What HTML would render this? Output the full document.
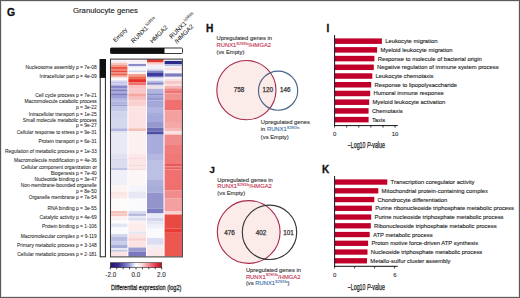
<!DOCTYPE html>
<html><head><meta charset="utf-8"><style>
html,body{margin:0;padding:0;background:#fff;}
#f{position:relative;width:520px;height:298px;overflow:hidden;background:#fff;}
#f svg{position:absolute;left:0;top:0;}
#b{position:absolute;left:0;top:0;width:518px;height:296px;border:1px solid #5c5c5c;box-shadow:inset 0 0 0 1px #e6e6e6;}
text{font-family:"Liberation Sans", sans-serif;}
</style></head><body><div id="f">
<svg width="520" height="298" viewBox="0 0 520 298">
<text x="7.0" y="15.5" font-size="10.4" fill="#111" font-weight="bold" stroke="#111" stroke-width="0.3">G</text>
<text x="73" y="13" font-size="7.74" fill="#222" textLength="65" lengthAdjust="spacingAndGlyphs" stroke="#222" stroke-width="0.12">Granulocyte genes</text>
<rect x="110.5" y="48" width="72" height="5.5" fill="#fff" stroke="#222" stroke-width="0.9" rx="0.8"/>
<rect x="110.5" y="48" width="54.0" height="5.5" fill="#111"/>
<rect x="100.2" y="59.6" width="5.2" height="197.2" fill="#fff" stroke="#222" stroke-width="1"/>
<rect x="99.7" y="59.1" width="6.2" height="18.8" fill="#111"/>
<rect x="110.5" y="59.1" width="71.9" height="197.8" fill="#fff"/>
<rect x="111.1" y="59.4" width="16.3" height="2.6" fill="#f6f2f8"/>
<rect x="111.1" y="62" width="16.3" height="1.1" fill="#f8e4e4"/>
<rect x="111.1" y="63.1" width="16.3" height="1.7" fill="#f6c0b8"/>
<rect x="111.1" y="64.8" width="16.3" height="1.8" fill="#f29888"/>
<rect x="111.1" y="66.6" width="16.3" height="2.8" fill="#ec5848"/>
<rect x="111.1" y="69.4" width="16.3" height="1.2" fill="#ee6654"/>
<rect x="111.1" y="70.6" width="16.3" height="1.7" fill="#e84a3c"/>
<rect x="111.1" y="72.3" width="16.3" height="1.1" fill="#f07c6c"/>
<rect x="111.1" y="73.4" width="16.3" height="2.3" fill="#ec6050"/>
<rect x="111.1" y="75.7" width="16.3" height="1.7" fill="#f6b0a8"/>
<rect x="111.1" y="77.4" width="16.3" height="1.1" fill="#fae0dc"/>
<rect x="111.1" y="78.5" width="16.3" height="1.8" fill="#fcfafa"/>
<rect x="111.1" y="80.3" width="16.3" height="1.7" fill="#d8d8f0"/>
<rect x="111.1" y="82" width="16.3" height="1.7" fill="#c0c0e6"/>
<rect x="111.1" y="83.7" width="16.3" height="1.7" fill="#d0d0ec"/>
<rect x="111.1" y="85.4" width="16.3" height="2.9" fill="#8888c8"/>
<rect x="111.1" y="88.3" width="16.3" height="1.7" fill="#9c9cd4"/>
<rect x="111.1" y="90" width="16.3" height="1.7" fill="#8080c2"/>
<rect x="111.1" y="91.7" width="16.3" height="1.7" fill="#a8a8dc"/>
<rect x="111.1" y="93.4" width="16.3" height="2.3" fill="#7878c0"/>
<rect x="111.1" y="95.7" width="16.3" height="2.3" fill="#a0a0d8"/>
<rect x="111.1" y="98" width="16.3" height="2.5" fill="#b0b4e0"/>
<rect x="111.1" y="100.5" width="16.3" height="1.0" fill="#a0a4d8"/>
<rect x="111.1" y="101.5" width="16.3" height="3.3" fill="#b0b4e0"/>
<rect x="111.1" y="104.8" width="16.3" height="1.2" fill="#9c9cd4"/>
<rect x="111.1" y="106" width="16.3" height="5.7" fill="#c4c8e8"/>
<rect x="111.1" y="111.7" width="16.3" height="6.3" fill="#d0d4ee"/>
<rect x="111.1" y="118" width="16.3" height="10.3" fill="#d4d8ef"/>
<rect x="111.1" y="128.3" width="16.3" height="2.8" fill="#b0b4e0"/>
<rect x="111.1" y="131.1" width="16.3" height="2.3" fill="#e0e2f2"/>
<rect x="111.1" y="133.4" width="16.3" height="20.6" fill="#e8e8f6"/>
<rect x="111.1" y="154" width="16.3" height="4.6" fill="#e0e2f2"/>
<rect x="111.1" y="158.6" width="16.3" height="2.2" fill="#d4d6ee"/>
<rect x="111.1" y="160.8" width="16.3" height="6.9" fill="#dcdef0"/>
<rect x="111.1" y="167.7" width="16.3" height="2.3" fill="#c0c4e4"/>
<rect x="111.1" y="170" width="16.3" height="15" fill="#eff0f8"/>
<rect x="111.1" y="185" width="16.3" height="6.7" fill="#fcf4f4"/>
<rect x="111.1" y="191.7" width="16.3" height="3.4" fill="#fae6e2"/>
<rect x="111.1" y="195.1" width="16.3" height="3.5" fill="#fce8e6"/>
<rect x="111.1" y="198.6" width="16.3" height="12.5" fill="#fdfafa"/>
<rect x="111.1" y="211.1" width="16.3" height="2.3" fill="#f4c0b4"/>
<rect x="111.1" y="213.4" width="16.3" height="2.8" fill="#f6c8c0"/>
<rect x="111.1" y="216.2" width="16.3" height="4.5" fill="#fcf0f0"/>
<rect x="111.1" y="220.7" width="16.3" height="2.7" fill="#fcfcfd"/>
<rect x="111.1" y="223.4" width="16.3" height="4.0" fill="#e4e6f4"/>
<rect x="111.1" y="227.4" width="16.3" height="6.7" fill="#fbfbfd"/>
<rect x="111.1" y="234.1" width="16.3" height="2.7" fill="#d0d4ec"/>
<rect x="111.1" y="236.8" width="16.3" height="4.7" fill="#b8bce2"/>
<rect x="111.1" y="241.5" width="16.3" height="3.3" fill="#c8cce8"/>
<rect x="111.1" y="244.8" width="16.3" height="3.4" fill="#a8acd8"/>
<rect x="111.1" y="248.2" width="16.3" height="2.0" fill="#e8e8f4"/>
<rect x="111.1" y="250.2" width="16.3" height="1.4" fill="#b0b4dc"/>
<rect x="111.1" y="251.6" width="16.3" height="4.9" fill="#fce4e4"/>
<rect x="128.4" y="59.4" width="17.6" height="3.2" fill="#f8f0f4"/>
<rect x="128.4" y="62.6" width="17.6" height="1.4" fill="#f0eef6"/>
<rect x="128.4" y="64" width="17.6" height="2.2" fill="#8c8acb"/>
<rect x="128.4" y="66.2" width="17.6" height="1.5" fill="#e8e8f4"/>
<rect x="128.4" y="67.7" width="17.6" height="2.9" fill="#f8f8fc"/>
<rect x="128.4" y="70.6" width="17.6" height="1.7" fill="#d0d4ec"/>
<rect x="128.4" y="72.3" width="17.6" height="1.7" fill="#fcf4f4"/>
<rect x="128.4" y="74" width="17.6" height="2.3" fill="#f0a090"/>
<rect x="128.4" y="76.3" width="17.6" height="2.8" fill="#ec6a50"/>
<rect x="128.4" y="79.1" width="17.6" height="3.4" fill="#e8302a"/>
<rect x="128.4" y="82.5" width="17.6" height="2.9" fill="#f07070"/>
<rect x="128.4" y="85.4" width="17.6" height="3.4" fill="#f8c0c0"/>
<rect x="128.4" y="88.8" width="17.6" height="4.6" fill="#f8c8c8"/>
<rect x="128.4" y="93.4" width="17.6" height="3.4" fill="#f4a8a0"/>
<rect x="128.4" y="96.8" width="17.6" height="3.5" fill="#f8c0c0"/>
<rect x="128.4" y="100.3" width="17.6" height="5.7" fill="#fad0d0"/>
<rect x="128.4" y="106" width="17.6" height="9" fill="#fce4e4"/>
<rect x="128.4" y="115" width="17.6" height="13.3" fill="#fce2e2"/>
<rect x="128.4" y="128.3" width="17.6" height="2.8" fill="#f4c0b8"/>
<rect x="128.4" y="131.1" width="17.6" height="22.9" fill="#fdf0f0"/>
<rect x="128.4" y="154" width="17.6" height="4" fill="#fce8e8"/>
<rect x="128.4" y="158" width="17.6" height="1.5" fill="#f8d8d8"/>
<rect x="128.4" y="159.5" width="17.6" height="5.0" fill="#fce8e8"/>
<rect x="128.4" y="164.5" width="17.6" height="1.5" fill="#f8d8d8"/>
<rect x="128.4" y="166" width="17.6" height="2.5" fill="#fce8e8"/>
<rect x="128.4" y="168.5" width="17.6" height="1.5" fill="#f8d8d8"/>
<rect x="128.4" y="170" width="17.6" height="16" fill="#fdf6f6"/>
<rect x="128.4" y="186" width="17.6" height="5.7" fill="#f4f4fa"/>
<rect x="128.4" y="191.7" width="17.6" height="6.9" fill="#e8e8f4"/>
<rect x="128.4" y="198.6" width="17.6" height="12.4" fill="#fafafd"/>
<rect x="128.4" y="211" width="17.6" height="2.4" fill="#dcdef0"/>
<rect x="128.4" y="213.4" width="17.6" height="2.8" fill="#b8bce0"/>
<rect x="128.4" y="216.2" width="17.6" height="1.8" fill="#e8eaf4"/>
<rect x="128.4" y="218" width="17.6" height="2.7" fill="#dcdef0"/>
<rect x="128.4" y="220.7" width="17.6" height="2.7" fill="#fcf0f0"/>
<rect x="128.4" y="223.4" width="17.6" height="8.0" fill="#fcecec"/>
<rect x="128.4" y="231.4" width="17.6" height="2.7" fill="#e8e8f4"/>
<rect x="128.4" y="234.1" width="17.6" height="4.1" fill="#fce4e4"/>
<rect x="128.4" y="238.2" width="17.6" height="2.6" fill="#f8d0d0"/>
<rect x="128.4" y="240.8" width="17.6" height="6.7" fill="#fce4e4"/>
<rect x="128.4" y="247.5" width="17.6" height="4.1" fill="#9c9cd0"/>
<rect x="128.4" y="251.6" width="17.6" height="4.9" fill="#7c78c0"/>
<rect x="147.0" y="59.1" width="16.5" height="3.2" fill="#e03830"/>
<rect x="147.0" y="62.3" width="16.5" height="1.4" fill="#f4b0a8"/>
<rect x="147.0" y="63.7" width="16.5" height="1.7" fill="#fadcdc"/>
<rect x="147.0" y="65.4" width="16.5" height="4.0" fill="#f0f0f8"/>
<rect x="147.0" y="69.4" width="16.5" height="1.7" fill="#c0c4e4"/>
<rect x="147.0" y="71.1" width="16.5" height="1.7" fill="#7878c0"/>
<rect x="147.0" y="72.8" width="16.5" height="4.0" fill="#3c3ca0"/>
<rect x="147.0" y="76.8" width="16.5" height="1.7" fill="#c8cce8"/>
<rect x="147.0" y="78.5" width="16.5" height="2.3" fill="#eceef8"/>
<rect x="147.0" y="80.8" width="16.5" height="1.7" fill="#b8bce2"/>
<rect x="147.0" y="82.5" width="16.5" height="2.3" fill="#8484c4"/>
<rect x="147.0" y="84.8" width="16.5" height="2.3" fill="#e0e0f0"/>
<rect x="147.0" y="87.1" width="16.5" height="1.7" fill="#f8e0e0"/>
<rect x="147.0" y="88.8" width="16.5" height="4.6" fill="#b0b4de"/>
<rect x="147.0" y="93.4" width="16.5" height="1.7" fill="#8c8cc8"/>
<rect x="147.0" y="95.1" width="16.5" height="2.9" fill="#a4a8d8"/>
<rect x="147.0" y="98" width="16.5" height="2.3" fill="#9898d0"/>
<rect x="147.0" y="100.3" width="16.5" height="6.7" fill="#a4a8d8"/>
<rect x="147.0" y="107" width="16.5" height="6" fill="#b0b4e0"/>
<rect x="147.0" y="113" width="16.5" height="3" fill="#a8acda"/>
<rect x="147.0" y="116" width="16.5" height="6" fill="#a4a8da"/>
<rect x="147.0" y="122" width="16.5" height="5.7" fill="#9898d0"/>
<rect x="147.0" y="127.7" width="16.5" height="4.0" fill="#6c6cb4"/>
<rect x="147.0" y="131.7" width="16.5" height="2.9" fill="#4c4ca4"/>
<rect x="147.0" y="134.6" width="16.5" height="19.4" fill="#a8acdc"/>
<rect x="147.0" y="154" width="16.5" height="6" fill="#b4b8e0"/>
<rect x="147.0" y="160" width="16.5" height="20" fill="#bcc0e4"/>
<rect x="147.0" y="180" width="16.5" height="6" fill="#acb0da"/>
<rect x="147.0" y="186" width="16.5" height="6.8" fill="#a8acd8"/>
<rect x="147.0" y="192.8" width="16.5" height="16.0" fill="#9494cc"/>
<rect x="147.0" y="208.8" width="16.5" height="4.6" fill="#7c7cc0"/>
<rect x="147.0" y="213.4" width="16.5" height="4.6" fill="#e8eaf6"/>
<rect x="147.0" y="218" width="16.5" height="3.4" fill="#d4d6ee"/>
<rect x="147.0" y="221.4" width="16.5" height="3.3" fill="#e4e6f4"/>
<rect x="147.0" y="224.7" width="16.5" height="4.0" fill="#f0f0f8"/>
<rect x="147.0" y="228.7" width="16.5" height="9.4" fill="#fafafd"/>
<rect x="147.0" y="238.1" width="16.5" height="6.7" fill="#dcdcf2"/>
<rect x="147.0" y="244.8" width="16.5" height="4.1" fill="#f4eef4"/>
<rect x="147.0" y="248.9" width="16.5" height="7.6" fill="#fce8e8"/>
<rect x="164.6" y="59.1" width="17.3" height="1.8" fill="#fafafc"/>
<rect x="164.6" y="60.9" width="17.3" height="3.4" fill="#2a2a88"/>
<rect x="164.6" y="64.3" width="17.3" height="1.7" fill="#b8bce2"/>
<rect x="164.6" y="66" width="17.3" height="1.7" fill="#f0f0f8"/>
<rect x="164.6" y="67.7" width="17.3" height="2.3" fill="#fae0e0"/>
<rect x="164.6" y="70" width="17.3" height="3.4" fill="#f8f8fc"/>
<rect x="164.6" y="73.4" width="17.3" height="3.4" fill="#7c7cbc"/>
<rect x="164.6" y="76.8" width="17.3" height="2.3" fill="#f4f4fa"/>
<rect x="164.6" y="79.1" width="17.3" height="1.7" fill="#fae0e0"/>
<rect x="164.6" y="80.8" width="17.3" height="3.5" fill="#f8c8c8"/>
<rect x="164.6" y="84.3" width="17.3" height="1.7" fill="#fadcdc"/>
<rect x="164.6" y="86" width="17.3" height="2.3" fill="#f6b4b4"/>
<rect x="164.6" y="88.3" width="17.3" height="2.7" fill="#f08888"/>
<rect x="164.6" y="91" width="17.3" height="2.4" fill="#ee7474"/>
<rect x="164.6" y="93.4" width="17.3" height="6.6" fill="#f29090"/>
<rect x="164.6" y="100" width="17.3" height="10.5" fill="#f07070"/>
<rect x="164.6" y="110.5" width="17.3" height="11.5" fill="#f4a0a0"/>
<rect x="164.6" y="122" width="17.3" height="6.8" fill="#f4a8a8"/>
<rect x="164.6" y="128.8" width="17.3" height="2.3" fill="#f6b8b8"/>
<rect x="164.6" y="131.1" width="17.3" height="3.5" fill="#fce0e0"/>
<rect x="164.6" y="134.6" width="17.3" height="10.4" fill="#f08c8c"/>
<rect x="164.6" y="145" width="17.3" height="9" fill="#f07c7c"/>
<rect x="164.6" y="154" width="17.3" height="10" fill="#f07878"/>
<rect x="164.6" y="164" width="17.3" height="2.5" fill="#e85858"/>
<rect x="164.6" y="166.5" width="17.3" height="1.5" fill="#f07070"/>
<rect x="164.6" y="168" width="17.3" height="1.5" fill="#e86060"/>
<rect x="164.6" y="169.5" width="17.3" height="21.1" fill="#f07070"/>
<rect x="164.6" y="190.6" width="17.3" height="8.0" fill="#f28c8c"/>
<rect x="164.6" y="198.6" width="17.3" height="12.4" fill="#f4a0a0"/>
<rect x="164.6" y="211" width="17.3" height="3.5" fill="#fad0d0"/>
<rect x="164.6" y="214.5" width="17.3" height="14.2" fill="#e84a42"/>
<rect x="164.6" y="228.7" width="17.3" height="4.1" fill="#e83c34"/>
<rect x="164.6" y="232.8" width="17.3" height="23.7" fill="#ec5850"/>
<rect x="110.5" y="59.1" width="71.9" height="197.8" fill="none" stroke="#404040" stroke-width="1.05"/>
<text x="96.8" y="68.92" font-size="4.9" fill="#222" text-anchor="end" stroke="#222" stroke-width="0.05">Nucleosome assembly p = 7e-08</text>
<text x="96.8" y="78.42" font-size="4.9" fill="#222" text-anchor="end" stroke="#222" stroke-width="0.05">Intracellular part p = 4e-09</text>
<text x="96.8" y="97.12" font-size="4.9" fill="#222" text-anchor="end" stroke="#222" stroke-width="0.05">Cell cycle process p = 7e-21</text>
<text x="96.8" y="102.82" font-size="4.9" fill="#222" text-anchor="end" stroke="#222" stroke-width="0.05">Macromolecule catabolic process</text>
<text x="96.8" y="108.52" font-size="4.9" fill="#222" text-anchor="end" stroke="#222" stroke-width="0.05">p = 3e-22</text>
<text x="96.8" y="115.82" font-size="4.9" fill="#222" text-anchor="end" stroke="#222" stroke-width="0.05">Intracellular transport p = 1e-25</text>
<text x="96.8" y="121.52" font-size="4.9" fill="#222" text-anchor="end" stroke="#222" stroke-width="0.05">Small molecule metabolic process</text>
<text x="96.8" y="127.42" font-size="4.9" fill="#222" text-anchor="end" stroke="#222" stroke-width="0.05">p = 9e-27</text>
<text x="96.8" y="134.12" font-size="4.9" fill="#222" text-anchor="end" stroke="#222" stroke-width="0.05">Cellular response to stress p = 9e-31</text>
<text x="96.8" y="143.22" font-size="4.9" fill="#222" text-anchor="end" stroke="#222" stroke-width="0.05">Protein transport p = 6e-31</text>
<text x="96.8" y="153.12" font-size="4.9" fill="#222" text-anchor="end" stroke="#222" stroke-width="0.05">Regulation of metabolic process p = 1e-33</text>
<text x="96.8" y="162.22" font-size="4.9" fill="#222" text-anchor="end" stroke="#222" stroke-width="0.05">Macromolecule modification p = 4e-36</text>
<text x="96.8" y="168.72" font-size="4.9" fill="#222" text-anchor="end" stroke="#222" stroke-width="0.05">Cellular component organization or</text>
<text x="96.8" y="174.72" font-size="4.9" fill="#222" text-anchor="end" stroke="#222" stroke-width="0.05">Biogenesis p = 7e-40</text>
<text x="96.8" y="180.82" font-size="4.9" fill="#222" text-anchor="end" stroke="#222" stroke-width="0.05">Nucleotide binding p = 3e-47</text>
<text x="96.8" y="187.22" font-size="4.9" fill="#222" text-anchor="end" stroke="#222" stroke-width="0.05">Non-membrane-bounded organelle</text>
<text x="96.8" y="192.92" font-size="4.9" fill="#222" text-anchor="end" stroke="#222" stroke-width="0.05">p = 8e-50</text>
<text x="96.8" y="199.22" font-size="4.9" fill="#222" text-anchor="end" stroke="#222" stroke-width="0.05">Organelle membrane p = 7e-54</text>
<text x="96.8" y="209.72" font-size="4.9" fill="#222" text-anchor="end" stroke="#222" stroke-width="0.05">RNA binding p = 3e-55</text>
<text x="96.8" y="219.22" font-size="4.9" fill="#222" text-anchor="end" stroke="#222" stroke-width="0.05">Catalytic activity p = 4e-69</text>
<text x="96.8" y="227.92" font-size="4.9" fill="#222" text-anchor="end" stroke="#222" stroke-width="0.05">Protein binding p = 1-106</text>
<text x="96.8" y="237.62" font-size="4.9" fill="#222" text-anchor="end" stroke="#222" stroke-width="0.05">Macromolecular complex p = 9-119</text>
<text x="96.8" y="246.92" font-size="4.9" fill="#222" text-anchor="end" stroke="#222" stroke-width="0.05">Primary metabolic process p = 3-148</text>
<text x="96.8" y="255.72" font-size="4.9" fill="#222" text-anchor="end" stroke="#222" stroke-width="0.05">Cellular metabolic process p = 2-181</text>
<text transform="translate(115.5,42.5) rotate(-45)" font-size="6.0" fill="#222" stroke="#222" stroke-width="0.04">Empty</text>
<text transform="translate(133.5,43.5) rotate(-45)" font-size="6.3" fill="#222" stroke="#222" stroke-width="0.04">RUNX1<tspan font-size="3.9" dy="-2.7">S291fs</tspan></text>
<text transform="translate(152.4,43.6) rotate(-45)" font-size="6.3" fill="#222" stroke="#222" stroke-width="0.04">HMGA2</text>
<text transform="translate(171.8,38.9) rotate(-45)" font-size="6.3" fill="#222" stroke="#222" stroke-width="0.04">RUNX1<tspan font-size="3.9" dy="-2.7">S291fs</tspan></text>
<text transform="translate(176.9,43.9) rotate(-45)" font-size="6.3" fill="#222" stroke="#222" stroke-width="0.04">/HMGA2</text>
<defs><linearGradient id="cb" x1="0" x2="1" y1="0" y2="0">
<stop offset="0" stop-color="#241470"/><stop offset="0.15" stop-color="#3a2a90"/><stop offset="0.35" stop-color="#8c8cd4"/><stop offset="0.5" stop-color="#ffffff"/>
<stop offset="0.6" stop-color="#fce0e4"/><stop offset="0.75" stop-color="#f08890"/><stop offset="0.9" stop-color="#e03040"/><stop offset="1" stop-color="#b80c20"/></linearGradient></defs>
<rect x="110.3" y="262.7" width="51.4" height="5.0" fill="url(#cb)" stroke="#333" stroke-width="0.6"/>
<line x1="110.30" y1="267.4" x2="110.30" y2="269.3" stroke="#111" stroke-width="0.8"/>
<line x1="116.72" y1="267.4" x2="116.72" y2="269.3" stroke="#111" stroke-width="0.8"/>
<line x1="123.15" y1="267.4" x2="123.15" y2="269.3" stroke="#111" stroke-width="0.8"/>
<line x1="129.57" y1="267.4" x2="129.57" y2="269.3" stroke="#111" stroke-width="0.8"/>
<line x1="136.00" y1="267.4" x2="136.00" y2="269.3" stroke="#111" stroke-width="0.8"/>
<line x1="142.43" y1="267.4" x2="142.43" y2="269.3" stroke="#111" stroke-width="0.8"/>
<line x1="148.85" y1="267.4" x2="148.85" y2="269.3" stroke="#111" stroke-width="0.8"/>
<line x1="155.28" y1="267.4" x2="155.28" y2="269.3" stroke="#111" stroke-width="0.8"/>
<line x1="161.70" y1="267.4" x2="161.70" y2="269.3" stroke="#111" stroke-width="0.8"/>
<text x="110.8" y="277.1" font-size="6.3" fill="#333" text-anchor="middle" stroke="#333" stroke-width="0.12">-2.0</text>
<text x="135.8" y="277.1" font-size="6.3" fill="#333" text-anchor="middle" stroke="#333" stroke-width="0.12">0.0</text>
<text x="161.4" y="277.1" font-size="6.3" fill="#333" text-anchor="middle" stroke="#333" stroke-width="0.12">2.0</text>
<text x="111" y="289.7" font-size="8.0" fill="#222" textLength="70.3" lengthAdjust="spacingAndGlyphs" stroke="#222" stroke-width="0.28">Differential expression (log2)</text>
<text x="206" y="32.3" font-size="10.2" fill="#111" font-weight="bold" stroke="#111" stroke-width="0.3">H</text>
<text x="216.5" y="40.3" font-size="5.84" fill="#333" textLength="55.5" lengthAdjust="spacingAndGlyphs" stroke="#333" stroke-width="0.12">Upregulated genes in</text>
<text x="216.5" y="47.3" font-size="5.84" fill="#c4304f" stroke="#c4304f" stroke-width="0.12">RUNX1<tspan font-size="4.0" dy="-2.5">S291fs</tspan><tspan dy="2.5">/HMGA2</tspan></text>
<text x="216.5" y="54.4" font-size="5.84" fill="#333" stroke="#333" stroke-width="0.12">(vs Empty)</text>
<circle cx="246.4" cy="90.15" r="29.6" fill="#fcece9" stroke="#a8284a" stroke-width="1.1"/>
<circle cx="278.1" cy="90.65" r="19.6" fill="none" stroke="#4a6688" stroke-width="1.15"/>
<text x="239" y="91.9" font-size="6.3" fill="#333" text-anchor="middle" stroke="#333" stroke-width="0.25">758</text>
<text x="267.7" y="92.4" font-size="6.3" fill="#333" text-anchor="middle" stroke="#333" stroke-width="0.25">120</text>
<text x="285.2" y="92.4" font-size="6.3" fill="#333" text-anchor="middle" stroke="#333" stroke-width="0.25">146</text>
<text x="260.8" y="124.4" font-size="5.84" fill="#333" textLength="49.1" lengthAdjust="spacingAndGlyphs" stroke="#333" stroke-width="0.12">Upregulated genes</text>
<text x="260.8" y="131.4" font-size="5.84" fill="#333" stroke="#333" stroke-width="0.12">in <tspan fill="#3a6ea5" stroke="#3a6ea5">RUNX1<tspan font-size="4.0" dy="-2.5">S291fs</tspan></tspan></text>
<text x="260.8" y="138.5" font-size="5.84" fill="#333" stroke="#333" stroke-width="0.12">(vs Empty)</text>
<text x="209.5" y="172.6" font-size="9.6" fill="#111" font-weight="bold" stroke="#111" stroke-width="0.3">J</text>
<text x="217.3" y="181.6" font-size="5.84" fill="#333" textLength="55.5" lengthAdjust="spacingAndGlyphs" stroke="#333" stroke-width="0.12">Upregulated genes in</text>
<text x="217.3" y="188.3" font-size="5.84" fill="#c4304f" stroke="#c4304f" stroke-width="0.12">RUNX1<tspan font-size="4.0" dy="-2.5">S291fs</tspan><tspan dy="2.5">/HMGA2</tspan></text>
<text x="217.3" y="194.9" font-size="5.84" fill="#333" stroke="#333" stroke-width="0.12">(vs Empty)</text>
<circle cx="248.7" cy="232" r="31.4" fill="#fcece9" stroke="#a8284a" stroke-width="1.1"/>
<circle cx="269.5" cy="232.3" r="27.2" fill="none" stroke="#383838" stroke-width="1.15"/>
<text x="229.6" y="234.8" font-size="6.3" fill="#333" text-anchor="middle" stroke="#333" stroke-width="0.25">476</text>
<text x="261.1" y="234.8" font-size="6.3" fill="#333" text-anchor="middle" stroke="#333" stroke-width="0.25">402</text>
<text x="288.6" y="234.8" font-size="6.3" fill="#333" text-anchor="middle" stroke="#333" stroke-width="0.25">101</text>
<text x="245.9" y="271.7" font-size="5.84" fill="#333" textLength="55.1" lengthAdjust="spacingAndGlyphs" stroke="#333" stroke-width="0.12">Upregulated genes in</text>
<text x="245.9" y="278.7" font-size="5.84" fill="#c4304f" stroke="#c4304f" stroke-width="0.12">RUNX1<tspan font-size="4.0" dy="-2.5">S291fs</tspan><tspan dy="2.5">/HMGA2</tspan></text>
<text x="245.9" y="285.3" font-size="5.84" fill="#333" stroke="#333" stroke-width="0.12">(vs <tspan fill="#3a6ea5" stroke="#3a6ea5">RUNX1<tspan font-size="4.0" dy="-2.5">S291fs</tspan></tspan><tspan dy="2.5">)</tspan></text>
<text x="326.6" y="31.8" font-size="10.0" fill="#111" font-weight="bold" stroke="#111" stroke-width="0.3">I</text>
<rect x="335" y="38.4" width="46.9" height="5.5" fill="#c0002a"/>
<text x="385.2" y="43.1" font-size="6.1" fill="#222" textLength="52.33" lengthAdjust="spacingAndGlyphs" stroke="#222" stroke-width="0.12">Leukocyte migration</text>
<rect x="335" y="47.12" width="42.1" height="5.5" fill="#c0002a"/>
<text x="380.4" y="51.82" font-size="6.1" fill="#222" textLength="72.14" lengthAdjust="spacingAndGlyphs" stroke="#222" stroke-width="0.12">Myeloid leukocyte migration</text>
<rect x="335" y="55.84" width="39.4" height="5.5" fill="#c0002a"/>
<text x="377.7" y="60.54" font-size="6.1" fill="#222" textLength="104.01" lengthAdjust="spacingAndGlyphs" stroke="#222" stroke-width="0.12">Response to molecule of bacterial origin</text>
<rect x="335" y="64.56" width="38.8" height="5.5" fill="#c0002a"/>
<text x="377.1" y="69.26" font-size="6.1" fill="#222" textLength="121.53" lengthAdjust="spacingAndGlyphs" stroke="#222" stroke-width="0.12">Negative regulation of immune system process</text>
<rect x="335" y="73.28" width="37.3" height="5.5" fill="#c0002a"/>
<text x="375.6" y="77.98" font-size="6.1" fill="#222" textLength="57.85" lengthAdjust="spacingAndGlyphs" stroke="#222" stroke-width="0.12">Leukocyte chemotaxis</text>
<rect x="335" y="82.0" width="36.2" height="5.5" fill="#c0002a"/>
<text x="374.5" y="86.7" font-size="6.1" fill="#222" textLength="82.56" lengthAdjust="spacingAndGlyphs" stroke="#222" stroke-width="0.12">Response to lipopolysaccharide</text>
<rect x="335" y="90.72" width="35.2" height="5.5" fill="#c0002a"/>
<text x="373.5" y="95.42" font-size="6.1" fill="#222" textLength="70.2" lengthAdjust="spacingAndGlyphs" stroke="#222" stroke-width="0.12">Humoral immune response</text>
<rect x="335" y="99.44" width="34.2" height="5.5" fill="#c0002a"/>
<text x="372.5" y="104.14" font-size="6.1" fill="#222" textLength="72.8" lengthAdjust="spacingAndGlyphs" stroke="#222" stroke-width="0.12">Myeloid leukocyte activation</text>
<rect x="335" y="108.16" width="33.6" height="5.5" fill="#c0002a"/>
<text x="371.9" y="112.86" font-size="6.1" fill="#222" textLength="30.88" lengthAdjust="spacingAndGlyphs" stroke="#222" stroke-width="0.12">Chemotaxis</text>
<rect x="335" y="116.88" width="33.6" height="5.5" fill="#c0002a"/>
<text x="371.9" y="121.58" font-size="6.1" fill="#222" textLength="13.33" lengthAdjust="spacingAndGlyphs" stroke="#222" stroke-width="0.12">Taxis</text>
<line x1="334.6" y1="35" x2="334.6" y2="126" stroke="#111" stroke-width="1"/>
<line x1="334.1" y1="125.6" x2="397.7" y2="125.6" stroke="#111" stroke-width="1"/>
<line x1="334.60" y1="125.6" x2="334.60" y2="127.6" stroke="#111" stroke-width="0.8"/>
<line x1="346.70" y1="125.6" x2="346.70" y2="127.6" stroke="#111" stroke-width="0.8"/>
<line x1="358.80" y1="125.6" x2="358.80" y2="127.6" stroke="#111" stroke-width="0.8"/>
<line x1="370.90" y1="125.6" x2="370.90" y2="127.6" stroke="#111" stroke-width="0.8"/>
<line x1="383.00" y1="125.6" x2="383.00" y2="127.6" stroke="#111" stroke-width="0.8"/>
<line x1="395.10" y1="125.6" x2="395.10" y2="127.6" stroke="#111" stroke-width="0.8"/>
<text x="334.6" y="136.2" font-size="6.0" fill="#333" text-anchor="middle" stroke="#333" stroke-width="0.12">0</text>
<text x="395" y="136.2" font-size="6.0" fill="#333" text-anchor="middle" stroke="#333" stroke-width="0.12">10</text>
<text x="347.7" y="148.2" font-size="8.2" fill="#222" textLength="37.2" lengthAdjust="spacingAndGlyphs" stroke="#222" stroke-width="0.25">−Log10 <tspan font-style="italic">P</tspan>-value</text>
<text x="322.0" y="173.3" font-size="10.0" fill="#111" font-weight="bold" stroke="#111" stroke-width="0.3">K</text>
<rect x="335" y="179.4" width="52.3" height="5.3" fill="#c0002a"/>
<text x="390.6" y="184.0" font-size="6.1" fill="#222" textLength="83.95" lengthAdjust="spacingAndGlyphs" stroke="#222" stroke-width="0.12">Transcription coregulator activity</text>
<rect x="335" y="188.15" width="43.3" height="5.3" fill="#c0002a"/>
<text x="381.6" y="192.75" font-size="6.1" fill="#222" textLength="106.26" lengthAdjust="spacingAndGlyphs" stroke="#222" stroke-width="0.12">Mitochondrial protein-containing complex</text>
<rect x="335" y="196.9" width="39.3" height="5.3" fill="#c0002a"/>
<text x="377.6" y="201.5" font-size="6.1" fill="#222" textLength="69.77" lengthAdjust="spacingAndGlyphs" stroke="#222" stroke-width="0.12">Chondrocyte differentiation</text>
<rect x="335" y="205.65" width="36.9" height="5.3" fill="#c0002a"/>
<text x="375.2" y="210.25" font-size="6.1" fill="#222" textLength="138.77" lengthAdjust="spacingAndGlyphs" stroke="#222" stroke-width="0.12">Purine ribonucleoside triphosphate metabolic process</text>
<rect x="335" y="214.4" width="36.2" height="5.3" fill="#c0002a"/>
<text x="374.5" y="219.0" font-size="6.1" fill="#222" textLength="129.02" lengthAdjust="spacingAndGlyphs" stroke="#222" stroke-width="0.12">Purine nucleoside triphosphate metabolic process</text>
<rect x="335" y="223.15" width="35.8" height="5.3" fill="#c0002a"/>
<text x="374.1" y="227.75" font-size="6.1" fill="#222" textLength="122.53" lengthAdjust="spacingAndGlyphs" stroke="#222" stroke-width="0.12">Ribonucleoside triphosphate metabolic process</text>
<rect x="335" y="231.9" width="34.7" height="5.3" fill="#c0002a"/>
<text x="373.0" y="236.5" font-size="6.1" fill="#222" textLength="59.58" lengthAdjust="spacingAndGlyphs" stroke="#222" stroke-width="0.12">ATP metabolic process</text>
<rect x="335" y="240.65" width="33.1" height="5.3" fill="#c0002a"/>
<text x="371.4" y="245.25" font-size="6.1" fill="#222" textLength="106.7" lengthAdjust="spacingAndGlyphs" stroke="#222" stroke-width="0.12">Proton motive force-driven ATP synthesis</text>
<rect x="335" y="249.4" width="32.5" height="5.3" fill="#c0002a"/>
<text x="370.8" y="254.0" font-size="6.1" fill="#222" textLength="111.47" lengthAdjust="spacingAndGlyphs" stroke="#222" stroke-width="0.12">Nucleoside triphosphate metabolic process</text>
<rect x="335" y="258.15" width="32.0" height="5.3" fill="#c0002a"/>
<text x="370.3" y="262.75" font-size="6.1" fill="#222" textLength="80.25" lengthAdjust="spacingAndGlyphs" stroke="#222" stroke-width="0.12">Metallo-sulfur cluster assembly</text>
<line x1="334.6" y1="176" x2="334.6" y2="267" stroke="#111" stroke-width="1"/>
<line x1="334.1" y1="266.3" x2="397.7" y2="266.3" stroke="#111" stroke-width="1"/>
<line x1="334.60" y1="266.3" x2="334.60" y2="268.5" stroke="#111" stroke-width="0.8"/>
<line x1="354.60" y1="266.3" x2="354.60" y2="268.5" stroke="#111" stroke-width="0.8"/>
<line x1="374.60" y1="266.3" x2="374.60" y2="268.5" stroke="#111" stroke-width="0.8"/>
<line x1="394.60" y1="266.3" x2="394.60" y2="268.5" stroke="#111" stroke-width="0.8"/>
<text x="334.6" y="277" font-size="6.0" fill="#333" text-anchor="middle" stroke="#333" stroke-width="0.12">0</text>
<text x="394.9" y="277" font-size="6.0" fill="#333" text-anchor="middle" stroke="#333" stroke-width="0.12">6</text>
<text x="347.7" y="289.6" font-size="8.2" fill="#222" textLength="37.2" lengthAdjust="spacingAndGlyphs" stroke="#222" stroke-width="0.25">−Log10 <tspan font-style="italic">P</tspan>-value</text>
</svg><div id="b"></div></div></body></html>
